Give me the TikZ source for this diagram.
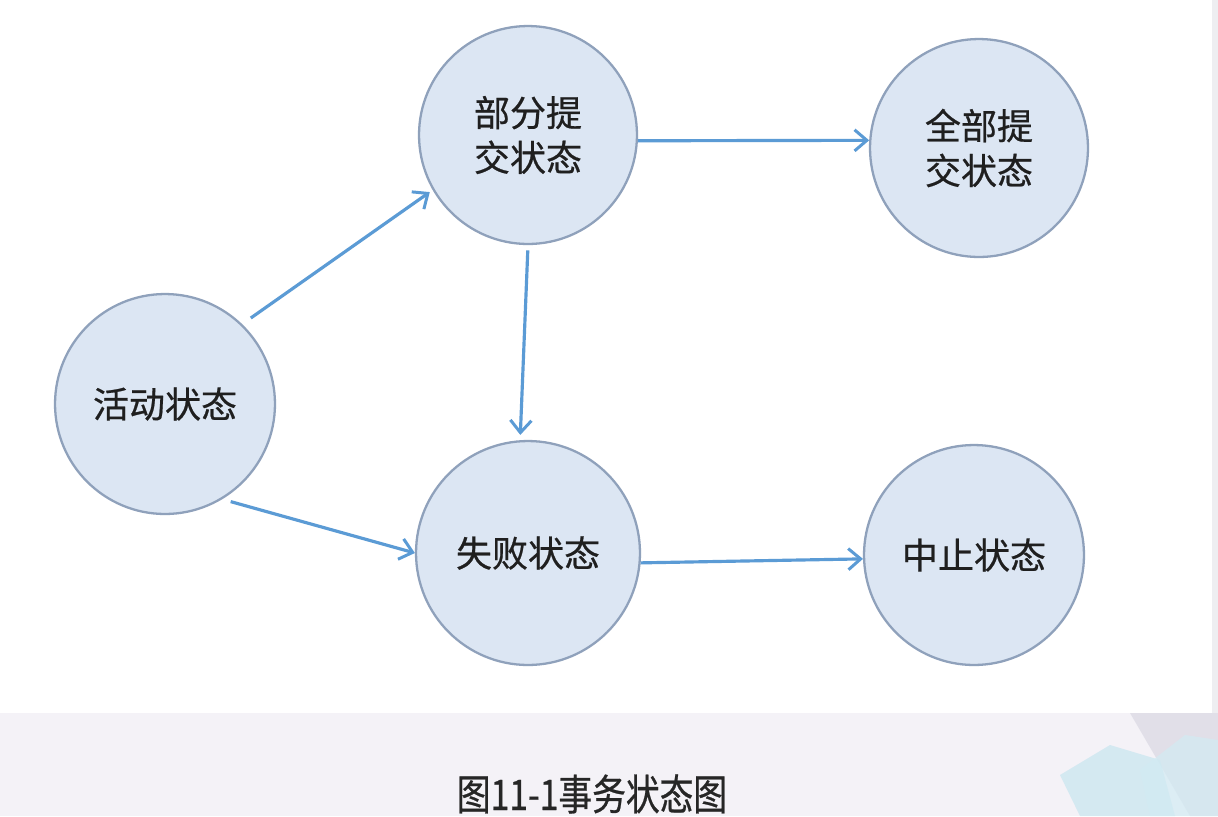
\documentclass[tikz,border=0pt]{standalone}
\usepackage{fontspec}
\newfontfamily\cjk[FakeBold=0.6]{Noto Sans CJK SC}
\newfontfamily\capfont[FakeStretch=0.8,FakeBold=0.6]{Noto Sans CJK SC}
\usetikzlibrary{arrows.meta}
\definecolor{circfill}{HTML}{DCE6F3}
\definecolor{circline}{HTML}{8FA1BB}
\definecolor{arrowblue}{HTML}{5B9BD5}
\definecolor{band}{HTML}{F4F2F7}
\definecolor{strip}{HTML}{EEEEF1}
\definecolor{deco}{HTML}{BFE3EE}
\definecolor{decogray}{HTML}{D9D8E3}
\tikzset{
  state/.style={circle, draw=circline, line width=1.3pt, fill=circfill,
    inner sep=0pt, align=center, font=\cjk\fontsize{20.5}{25.5}\selectfont, text=black!88},
  flow/.style={draw=arrowblue, line width=1.8pt,
    -{Straight Barb[length=7pt,width=12pt,line width=1.7pt]}}
}
\begin{document}
\begin{tikzpicture}[x=0.02cm,y=-0.02cm]
\useasboundingbox (0,0) rectangle (1218,816);
\fill[white] (0,0) rectangle (1218,816);
\fill[strip] (1212,0) rectangle (1218,713);
\fill[band] (0,713) rectangle (1218,816);
\fill[decogray, opacity=0.7] (1130,713) -- (1218,713) -- (1218,816) -- (1190,816) -- cycle;
\fill[deco, opacity=0.6] (1080,816) -- (1060,775) -- (1110,745) -- (1160,760) -- (1175,816) -- cycle;
\fill[deco!70!white, opacity=0.7] (1150,816) -- (1140,770) -- (1185,735) -- (1218,740) -- (1218,816) -- cycle;

\node[state, minimum size=4.36cm] (part) at (528,135) {部分提\\交状态};
\node[state, minimum size=4.36cm] (all) at (979,148) {全部提\\交状态};
\node[state, minimum size=4.4cm] (act) at (165,404) {活动状态};
\node[state, minimum size=4.48cm] (fail) at (528,553) {失败状态};
\node[state, minimum size=4.4cm] (abort) at (974,555) {中止状态};

\draw[flow, shorten <=6pt, shorten >=2pt] (act.46) -- (part.210);
\draw[flow, shorten <=5pt] (act.-59) -- (fail.180);
\draw[flow, shorten <=3pt, shorten >=3pt] (part.-90) -- (fail.94);
\draw[flow] (part.-3) -- (all.176);
\draw[flow] (fail.-5) -- (abort.182);

\node[font=\capfont\fontsize{24}{28}\selectfont, text=black!85] (cap) at (592,794) {图11-1事务状态图};
\end{tikzpicture}
\end{document}
